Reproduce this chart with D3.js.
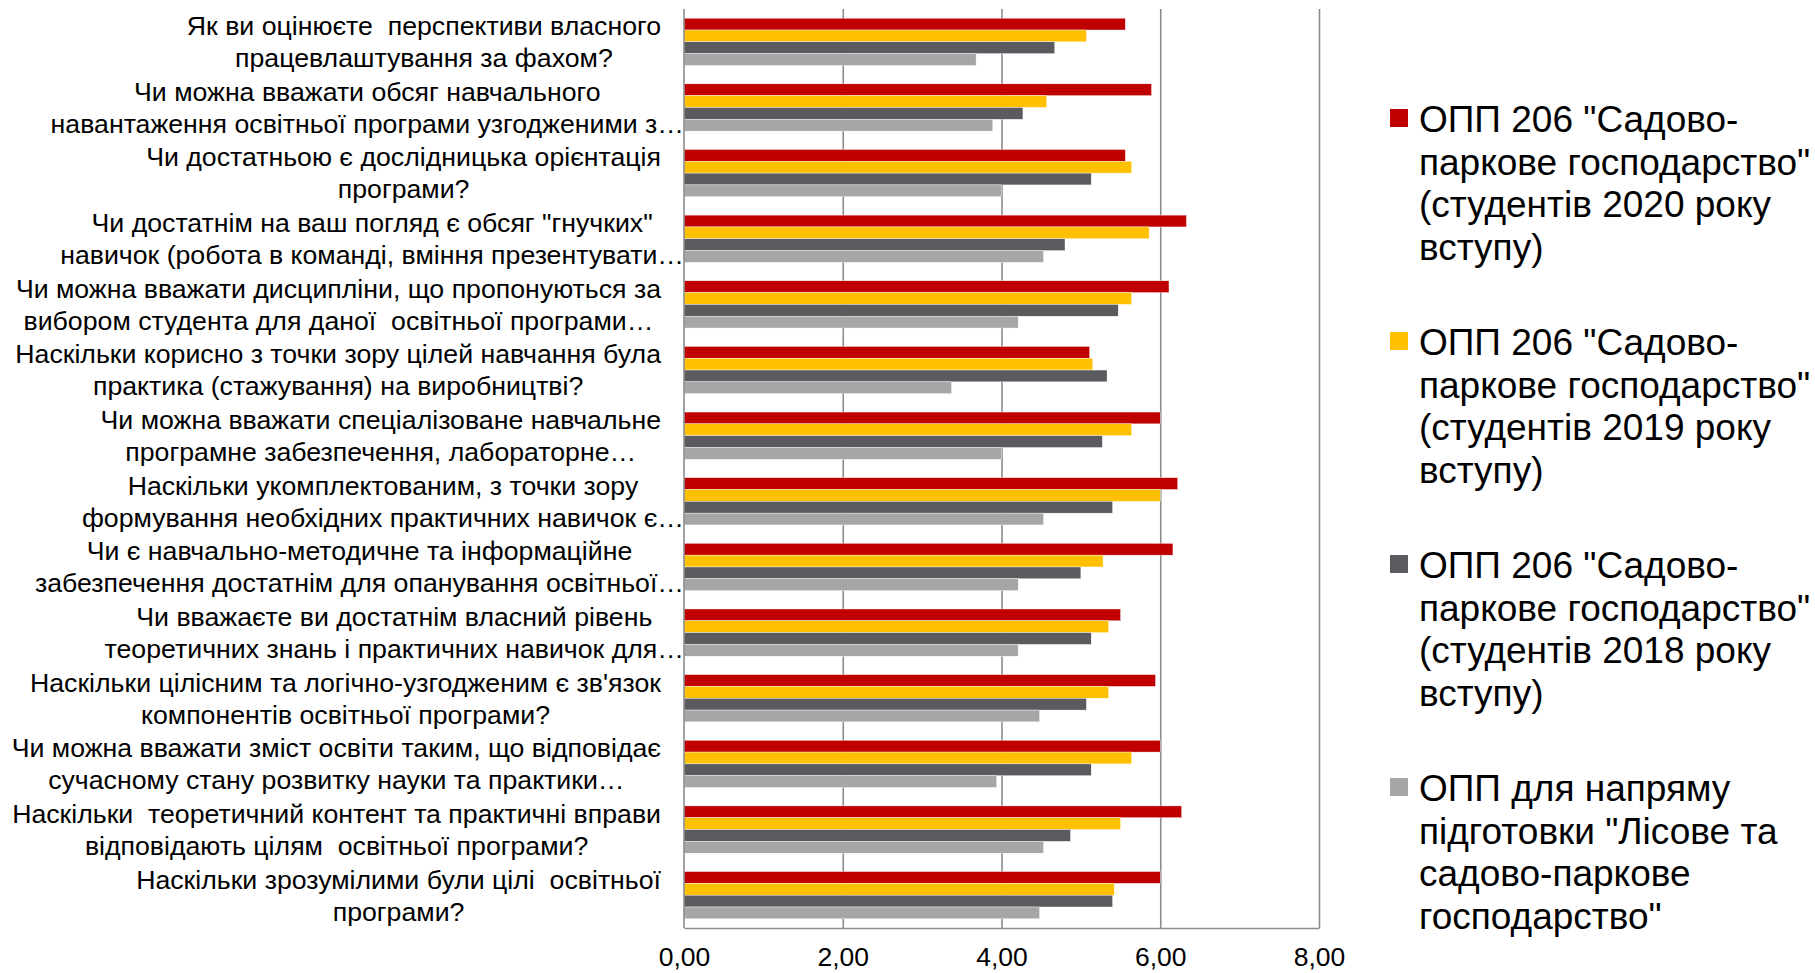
<!DOCTYPE html>
<html><head><meta charset="utf-8">
<script src="https://cdn.jsdelivr.net/npm/d3@7/dist/d3.min.js"></script>
<style>
body{margin:0;background:#fff}
svg{display:block}
text{font-family:"Liberation Sans",Arial,sans-serif;fill:#000}
</style></head>
<body>
<svg id="chart" width="1815" height="973"></svg>
<script>
// ---------- DATA ----------
const categories = [
  "Як ви оцінюєте  перспективи власного\nпрацевлаштування за фахом?",
  "Чи можна вважати обсяг навчального\nнавантаження освітньої програми узгодженими з…",
  "Чи достатньою є дослідницька орієнтація\nпрограми?",
  "Чи достатнім на ваш погляд є обсяг \"гнучких\"\nнавичок (робота в команді, вміння презентувати…",
  "Чи можна вважати дисципліни, що пропонуються за\nвибором студента для даної  освітньої програми…",
  "Наскільки корисно з точки зору цілей навчання була\nпрактика (стажування) на виробництві?",
  "Чи можна вважати спеціалізоване навчальне\nпрограмне забезпечення, лабораторне…",
  "Наскільки укомплектованим, з точки зору\nформування необхідних практичних навичок є…",
  "Чи є навчально-методичне та інформаційне\nзабезпечення достатнім для опанування освітньої…",
  "Чи вважаєте ви достатнім власний рівень\nтеоретичних знань і практичних навичок для…",
  "Наскільки цілісним та логічно-узгодженим є зв'язок\nкомпонентів освітньої програми?",
  "Чи можна вважати зміст освіти таким, що відповідає\nсучасному стану розвитку науки та практики…",
  "Наскільки  теоретичний контент та практичні вправи\nвідповідають цілям  освітньої програми?",
  "Наскільки зрозумілими були цілі  освітньої\nпрограми?"
];
const seriesNames = [
  "ОПП 206 \"Садово-\nпаркове господарство\"\n(студентів 2020 року\nвступу)",
  "ОПП 206 \"Садово-\nпаркове господарство\"\n(студентів 2019 року\nвступу)",
  "ОПП 206 \"Садово-\nпаркове господарство\"\n(студентів 2018 року\nвступу)",
  "ОПП для напряму\nпідготовки \"Лісове та\nсадово-паркове\nгосподарство\""
];
const values2020 = [5.56, 5.89, 5.56, 6.33, 6.11, 5.11, 6.00, 6.22, 6.16, 5.50, 5.94, 6.00, 6.27, 6.00];
const values2019 = [5.07, 4.57, 5.64, 5.86, 5.64, 5.15, 5.64, 6.00, 5.28, 5.35, 5.35, 5.64, 5.50, 5.42];
const values2018 = [4.67, 4.27, 5.13, 4.80, 5.47, 5.33, 5.27, 5.40, 5.00, 5.13, 5.07, 5.13, 4.87, 5.40];
const valuesDir  = [3.68, 3.89, 4.00, 4.53, 4.21, 3.37, 4.00, 4.53, 4.21, 4.21, 4.48, 3.94, 4.53, 4.48];
const tickValues = [0, 2, 4, 6, 8];
const tickLabels = ["0,00", "2,00", "4,00", "6,00", "8,00"];
const colors = ["#C00000", "#FFC000", "#5B5B5F", "#A6A6A6"];

// ---------- LAYOUT ----------
const svg = d3.select("#chart");
const plot = {left: 684, right: 1319, top: 9, bottom: 928};
const series = [values2020, values2019, values2018, valuesDir];
const seriesKeys = d3.range(series.length);

const x = d3.scaleLinear().domain([0, 8]).range([plot.left, plot.right]);
const y = d3.scaleBand().domain(d3.range(categories.length))
  .range([plot.top, plot.bottom]).paddingInner(0.28).paddingOuter(0.14);
const ySub = d3.scaleBand().domain(seriesKeys).range([0, y.bandwidth()]).padding(0);

// gridlines
const grid = svg.append("g").attr("transform", `translate(0,${plot.bottom})`)
  .call(d3.axisBottom(x).tickValues(tickValues.slice(1)).tickSize(-(plot.bottom - plot.top)).tickFormat(""));
grid.select(".domain").remove();
grid.selectAll("line").attr("stroke", "#8C8C8C").attr("stroke-width", 1.6);

// bars
const groups = svg.append("g").selectAll("g").data(categories).join("g")
  .attr("transform", (d, i) => `translate(0,${y(i)})`);
groups.selectAll("rect").data((d, i) => seriesKeys.map(k => ({k, v: series[k][i]}))).join("rect")
  .attr("x", x(0))
  .attr("y", d => ySub(d.k))
  .attr("width", d => x(d.v) - x(0))
  .attr("height", ySub.bandwidth())
  .attr("fill", d => colors[d.k])
  .attr("stroke", "#fff").attr("stroke-width", 0.4);

// axes lines
svg.append("line").attr("x1", x(0)).attr("x2", x(0)).attr("y1", plot.top).attr("y2", plot.bottom)
  .attr("stroke", "#8C8C8C").attr("stroke-width", 1.6);
const xAxis = svg.append("g").attr("transform", `translate(0,${plot.bottom})`)
  .call(d3.axisBottom(x).tickValues(tickValues).tickSize(0).tickPadding(19)
    .tickFormat((d, i) => tickLabels[i]));
xAxis.select(".domain").attr("stroke", "#8C8C8C").attr("stroke-width", 1.6);
xAxis.selectAll("text").style("font-family", '"Liberation Sans",Arial,sans-serif')
  .style("font-size", "26.5px").attr("fill", "#000");

// category labels
const labelFont = 26.7, lineH = 32;
const labels = svg.append("g").selectAll("g").data(categories).join("g");
labels.each(function(d, i) {
  const g = d3.select(this);
  const lines = d.split("\n");
  const cy = y(i) + y.bandwidth() / 2;
  const texts = lines.map((ln, j) => g.append("text")
    .attr("y", cy + (j - (lines.length - 1) / 2) * lineH)
    .attr("dy", "0.35em")
    .attr("text-anchor", "middle")
    .style("font-size", labelFont + "px")
    .style("white-space", "pre")
    .attr("xml:space", "preserve")
    .text(ln));
  const widths = texts.map(t => t.node().getComputedTextLength());
  const wi = d3.maxIndex(widths);
  const right = lines[wi].endsWith("…") ? x(0) : x(0) - 23;
  const cx = right - widths[wi] / 2;
  texts.forEach(t => t.attr("x", cx));
});

// legend
const legend = svg.append("g").selectAll("g").data(seriesNames).join("g")
  .attr("transform", (d, i) => `translate(1390,${132 + i * 223})`);
legend.append("rect").attr("x", 0).attr("y", -23).attr("width", 18).attr("height", 18)
  .attr("fill", (d, i) => colors[i]);
legend.each(function(d) {
  const g = d3.select(this);
  d.split("\n").forEach((ln, j) => g.append("text")
    .attr("x", 29).attr("y", j * 42.5)
    .style("font-size", "37px")
    .text(ln));
});
</script>
</body></html>
